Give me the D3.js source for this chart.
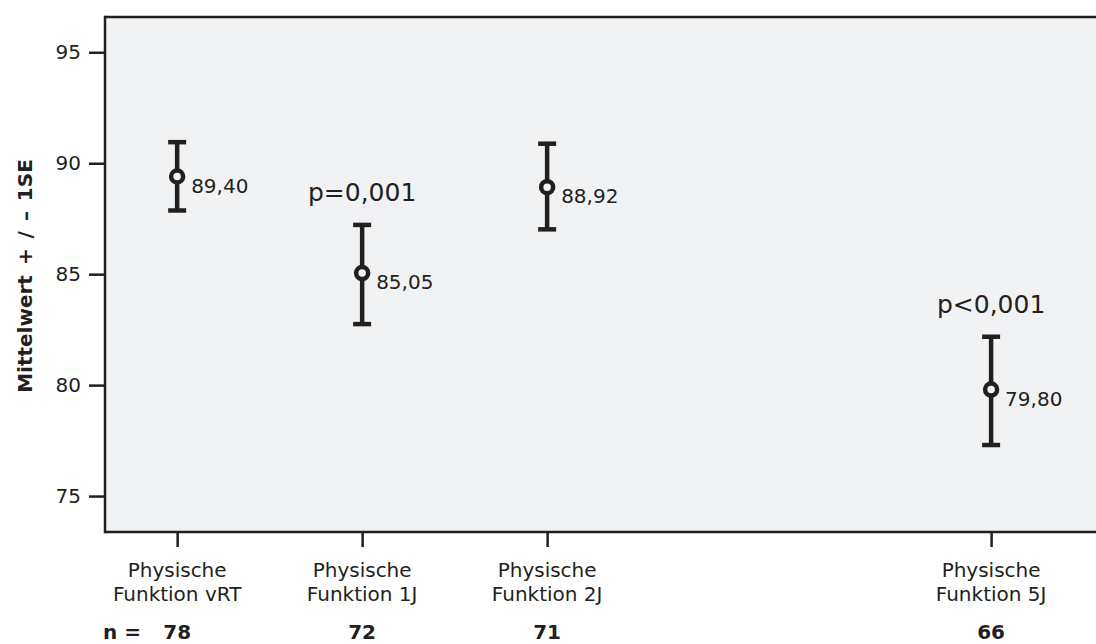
<!DOCTYPE html>
<html>
<head>
<meta charset="utf-8">
<script src="https://cdn.jsdelivr.net/npm/d3@7"></script>
<style>
  html, body { margin: 0; padding: 0; background: #fff; }
  svg { display: block; }
  text { font-family: "DejaVu Sans", Verdana, sans-serif; fill: #231f20; }
</style>
</head>
<body>
<svg id="chart" width="1096" height="644"></svg>
<script>
// ---- data ----
const categoryLine1 = ["Physische", "Physische", "Physische", "Physische"];
const categoryLine2 = ["Funktion vRT", "Funktion 1J", "Funktion 2J", "Funktion 5J"];
const categoryPos = [0, 1, 2, 4.4];
const means = [89.40, 85.05, 88.92, 79.80];
const upper = [90.95, 87.22, 90.88, 82.18];
const lower = [87.87, 82.75, 87.02, 77.30];
const nValues = [78, 72, 71, 66];
const pLabels = ["", "p=0,001", "", "p<0,001"];
const yTicks = [75, 80, 85, 90, 95];
const meanLabels = ["89,40", "85,05", "88,92", "79,80"];

// ---- layout ----
const plotLeft = 105, plotTop = 17, plotRight = 1096, plotBottom = 532;
const ink = "#231f20";

const svg = d3.select("#chart");

const x = d3.scaleLinear().domain([-0.39, 4.967]).range([plotLeft, plotRight]);
const y = d3.scaleLinear().domain([73.38, 96.59]).range([plotBottom, plotTop]);

// plot background
svg.append("rect")
  .attr("x", plotLeft).attr("y", plotTop)
  .attr("width", plotRight - plotLeft).attr("height", plotBottom - plotTop)
  .attr("fill", "#f1f2f4");

// y axis
const yAxis = d3.axisLeft(y).tickValues(yTicks).tickSize(16).tickPadding(8)
  .tickFormat(d3.format("d"));
const gy = svg.append("g").attr("transform", `translate(${plotLeft},0)`).call(yAxis);
gy.select(".domain").remove();
gy.selectAll(".tick line").attr("stroke", ink).attr("stroke-width", 2.5);
gy.selectAll(".tick text").attr("font-size", 20).attr("fill", ink)
  .style("font-family", '"DejaVu Sans", Verdana, sans-serif');

// x axis
const xAxis = d3.axisBottom(x).tickValues(categoryPos).tickSize(15).tickFormat("");
const gx = svg.append("g").attr("transform", `translate(0,${plotBottom})`).call(xAxis);
gx.select(".domain").remove();
gx.selectAll(".tick line").attr("stroke", ink).attr("stroke-width", 2.5);

// frame lines (top, left, bottom)
svg.append("line").attr("x1", plotLeft).attr("x2", plotRight).attr("y1", plotTop).attr("y2", plotTop)
  .attr("stroke", ink).attr("stroke-width", 2.5);
svg.append("line").attr("x1", plotLeft).attr("x2", plotRight).attr("y1", plotBottom).attr("y2", plotBottom)
  .attr("stroke", ink).attr("stroke-width", 2.5);
svg.append("line").attr("x1", plotLeft).attr("x2", plotLeft).attr("y1", plotTop - 1.25).attr("y2", plotBottom + 1.25)
  .attr("stroke", ink).attr("stroke-width", 2.5);

// category labels
const labels = svg.append("g");
categoryPos.forEach((p, i) => {
  const t = labels.append("text")
    .attr("text-anchor", "middle").attr("font-size", 20);
  t.append("tspan").attr("x", x(p)).attr("y", 577).text(categoryLine1[i]);
  t.append("tspan").attr("x", x(p)).attr("y", 601).text(categoryLine2[i]);
  labels.append("text")
    .attr("x", x(p)).attr("y", 639)
    .attr("text-anchor", "middle").attr("font-size", 20).attr("font-weight", "bold")
    .text(nValues[i]);
});
svg.append("text")
  .attr("x", 103).attr("y", 639)
  .attr("font-size", 20).attr("font-weight", "bold")
  .text("n =");

// y axis title
svg.append("text")
  .attr("transform", `translate(32,276) rotate(-90)`)
  .attr("text-anchor", "middle")
  .attr("font-size", 20).attr("font-weight", "bold")
  .attr("word-spacing", 3)
  .text("Mittelwert + / – 1SE");

// error bars
const g = svg.append("g");
const capHalf = 9;
categoryPos.forEach((p, i) => {
  const cx = x(p);
  g.append("line").attr("x1", cx).attr("x2", cx)
    .attr("y1", y(upper[i])).attr("y2", y(lower[i]))
    .attr("stroke", ink).attr("stroke-width", 4.5);
  g.append("line").attr("x1", cx - capHalf).attr("x2", cx + capHalf)
    .attr("y1", y(upper[i])).attr("y2", y(upper[i]))
    .attr("stroke", ink).attr("stroke-width", 4.5);
  g.append("line").attr("x1", cx - capHalf).attr("x2", cx + capHalf)
    .attr("y1", y(lower[i])).attr("y2", y(lower[i]))
    .attr("stroke", ink).attr("stroke-width", 4.5);
  g.append("circle").attr("cx", cx).attr("cy", y(means[i])).attr("r", 6)
    .attr("fill", "#f1f2f4").attr("stroke", ink).attr("stroke-width", 4.5);
  g.append("text").attr("x", cx + 14).attr("y", y(means[i]) + 16)
    .attr("font-size", 20).text(meanLabels[i]);
  if (pLabels[i]) {
    g.append("text").attr("x", cx).attr("y", y(upper[i]) - 24)
      .attr("text-anchor", "middle").attr("font-size", 25).text(pLabels[i]);
  }
});
</script>
</body>
</html>
